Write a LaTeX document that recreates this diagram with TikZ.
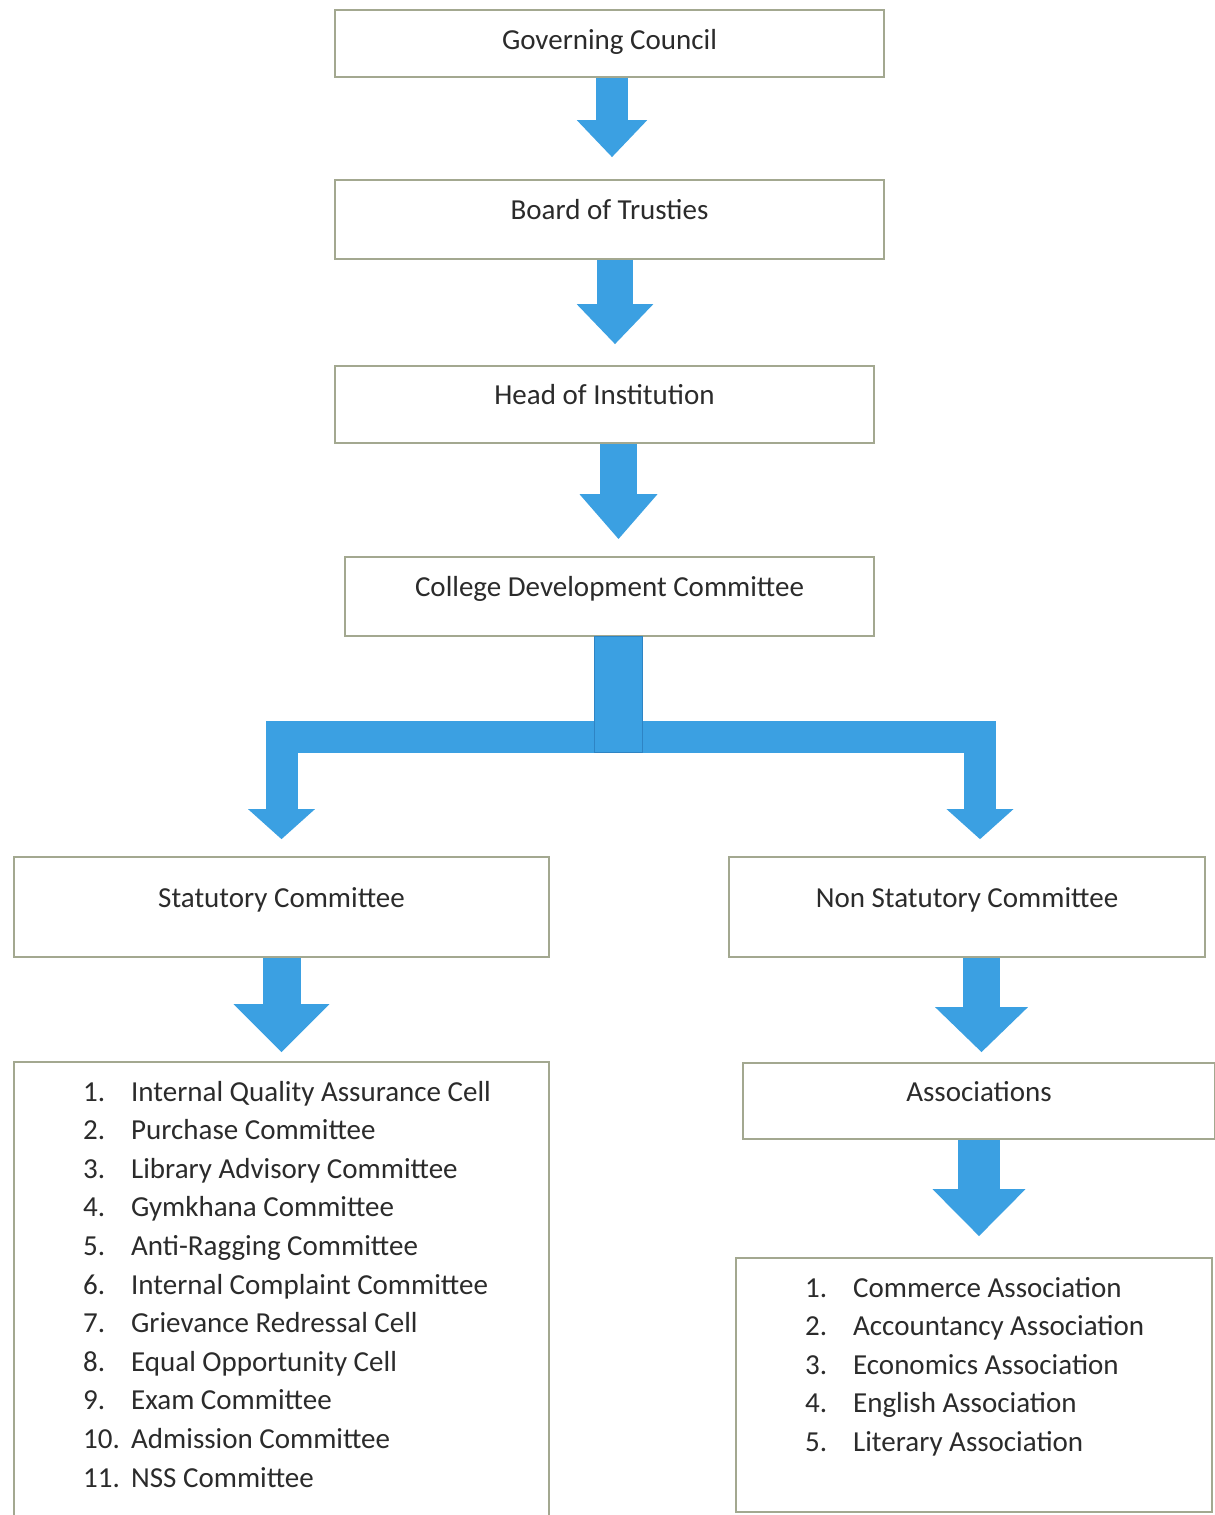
\documentclass[tikz,border=0pt]{standalone}
\usepackage{fontspec}
\setmainfont{Carlito}
\usetikzlibrary{arrows.meta,calc}
\definecolor{boxline}{HTML}{A3A890}
\definecolor{flowblue}{HTML}{3BA0E2}
\definecolor{flowedge}{HTML}{2E84C4}
\definecolor{inktext}{HTML}{2B2B2B}
\tikzset{
  box/.style={draw=boxline, line width=1.6pt, fill=white, text=inktext,
    inner sep=0pt, text height=20pt, text depth=20pt},
  item/.style={text=inktext, inner sep=0pt, anchor=base west},
  flow/.style={draw=flowblue, line width=#1},
  flow/.default=36pt,
}
\begin{document}
\begin{tikzpicture}[x=1pt,y=-1pt,font=\fontsize{29pt}{38.6pt}\selectfont]
\useasboundingbox[fill=white] (0,0) rectangle (1215,1515);

\node[box, text depth=8pt, minimum width=549pt, minimum height=67pt] (gc) at (609.5,43.5) {Governing Council};
\node[box, minimum width=549pt, minimum height=79pt] (bt) at (609.5,219.5) {Board of Trusties};
\node[box, minimum width=539pt, minimum height=77pt] (hi) at (604.5,404.5) {Head of Institution};
\node[box, minimum width=529pt, minimum height=79pt] (cdc) at (609.5,596.5) {College Development Committee};
\node[box, minimum width=535pt, minimum height=100pt] (sc) at (281.5,907) {Statutory Committee};
\node[box, minimum width=476pt, minimum height=100pt] (nsc) at (967,907) {Non Statutory Committee};
\node[box, minimum width=472pt, minimum height=76pt] (as) at (979,1101) {Associations};
\node[box, minimum width=535pt, minimum height=460pt] (sl) at (281.5,1292) {};
\node[box, minimum width=476pt, minimum height=254pt] (al) at (974,1385) {};

\foreach \name [count=\i] in {Internal Quality Assurance Cell, Purchase Committee,
    Library Advisory Committee, Gymkhana Committee, Anti-Ragging Committee,
    Internal Complaint Committee, Grievance Redressal Cell, Equal Opportunity Cell,
    Exam Committee, Admission Committee, NSS Committee}
  \node[item] (s\i) at (83,{1101+38.6*(\i-1)}) {\makebox[48pt][l]{\i.}\name};
\foreach \name [count=\i] in {Commerce Association, Accountancy Association,
    Economics Association, English Association, Literary Association}
  \node[item] (a\i) at (805,{1297+38.5*(\i-1)}) {\makebox[48pt][l]{\i.}\name};

\draw[flow=32pt, -{Triangle[width=68pt,length=37pt]}, shorten >=22pt]
  ([xshift=2.5pt]gc.south) -- ([xshift=2.5pt]gc.south |- bt.north);
\draw[flow=36pt, -{Triangle[width=74pt,length=40pt]}, shorten >=21pt]
  ([xshift=5.5pt]bt.south) -- ([xshift=5.5pt]bt.south |- hi.north);
\draw[flow=37pt, -{Triangle[width=75pt,length=45pt]}, shorten >=17pt]
  ([xshift=14pt]hi.south) -- ([xshift=14pt]hi.south |- cdc.north);

\coordinate (fork) at ($(cdc.south)+(8.5,100)$);
\draw[flow=32pt, line join=miter, -{Triangle[width=65pt,length=30pt]}, shorten >=17pt]
  (fork) -| (sc.north);
\draw[flow=32pt, line join=miter, -{Triangle[width=65pt,length=30pt]}, shorten >=17pt]
  (fork) -| ([xshift=13pt]nsc.north);
\draw[fill=flowblue, draw=flowedge, line width=1pt]
  ($(fork |- cdc.south)+(-24,0)$) rectangle ($(fork)+(24,16)$);

\draw[flow=38pt, -{Triangle[width=93pt,length=48pt]}, shorten >=9pt]
  (sc.south) -- (sl.north);
\draw[flow=37pt, -{Triangle[width=90pt,length=45pt]}, shorten >=10pt]
  ([xshift=14.5pt]nsc.south) -- ([xshift=14.5pt]nsc.south |- as.north);
\draw[flow=42pt, -{Triangle[width=90pt,length=47pt]}, shorten >=21pt]
  (as.south) -- (as.south |- al.north);
\end{tikzpicture}
\end{document}
